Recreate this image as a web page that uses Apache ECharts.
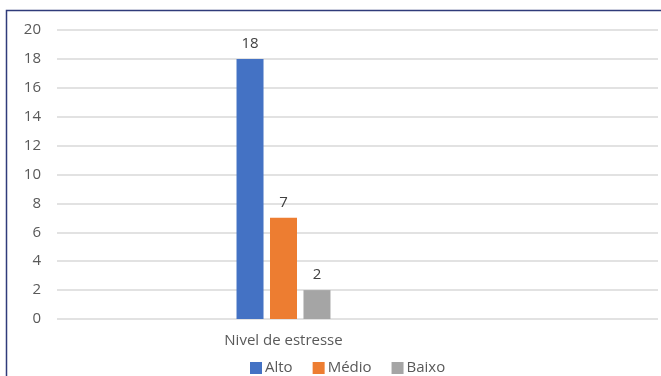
<!DOCTYPE html>
<html><head><meta charset="utf-8">
<script src="https://cdn.jsdelivr.net/npm/echarts@6/dist/echarts.min.js"></script>
<style>html,body{margin:0;padding:0;background:#fff}#c{width:661px;height:376px}</style>
</head><body><div id="c"></div>
<script>
var categories = ['Nivel de estresse'];
var seriesNames = ['Alto', 'Médio', 'Baixo'];
var alto = [18];
var medio = [7];
var baixo = [2];
var yMin = 0, yMax = 20, yStep = 2;

var colors = ['#4472C4', '#ED7D31', '#A5A5A5'];
var font = 'Open Sans';
var chart = echarts.init(document.getElementById('c'), null, {renderer: 'canvas'});
var vals = [alto, medio, baixo];
var series = seriesNames.map(function (n, i) {
  return {
    name: n, type: 'bar', xAxisIndex: 1, yAxisIndex: 1,
    data: vals[i], barWidth: 27, barGap: '24%',
    itemStyle: {color: colors[i]},
    label: {show: true, position: 'top', distance: 8, color: '#404040', fontSize: 15, fontFamily: font}
  };
});
chart.setOption({
  animation: false,
  color: colors,
  graphic: [{
    type: 'polyline', silent: true,
    shape: {points: [[6.5, 380], [6.5, 10.5], [670, 10.5]]},
    style: {stroke: '#2F3B7A', lineWidth: 1.5, fill: null}
  }],
  legend: {
    data: seriesNames, left: 250, top: 360, padding: 0, itemWidth: 12, itemHeight: 12, itemGap: 20,
    icon: 'rect',
    textStyle: {color: '#595959', fontSize: 15, lineHeight: 16, fontFamily: font, padding: [0, 0, 0, -2]}
  },
  grid: [
    {left: 57, right: 3, top: 30, bottom: 57},
    {left: 57, width: 453, top: 30, bottom: 57}
  ],
  xAxis: [
    {type: 'category', gridIndex: 0, data: [''], show: false},
    {type: 'category', gridIndex: 1, data: categories,
     axisLine: {show: false}, axisTick: {show: false},
     axisLabel: {color: '#595959', fontSize: 15, fontFamily: font, margin: 14}}
  ],
  yAxis: [
    {type: 'value', gridIndex: 0, min: yMin, max: yMax, interval: yStep,
     axisLine: {show: false}, axisTick: {show: false},
     axisLabel: {color: '#595959', fontSize: 15, fontFamily: font, margin: 16},
     splitLine: {lineStyle: {color: '#D9D9D9', width: 1.5}}},
    {type: 'value', gridIndex: 1, min: yMin, max: yMax, interval: yStep, show: false,
     splitLine: {show: false}}
  ],
  series: series
});
</script></body></html>
